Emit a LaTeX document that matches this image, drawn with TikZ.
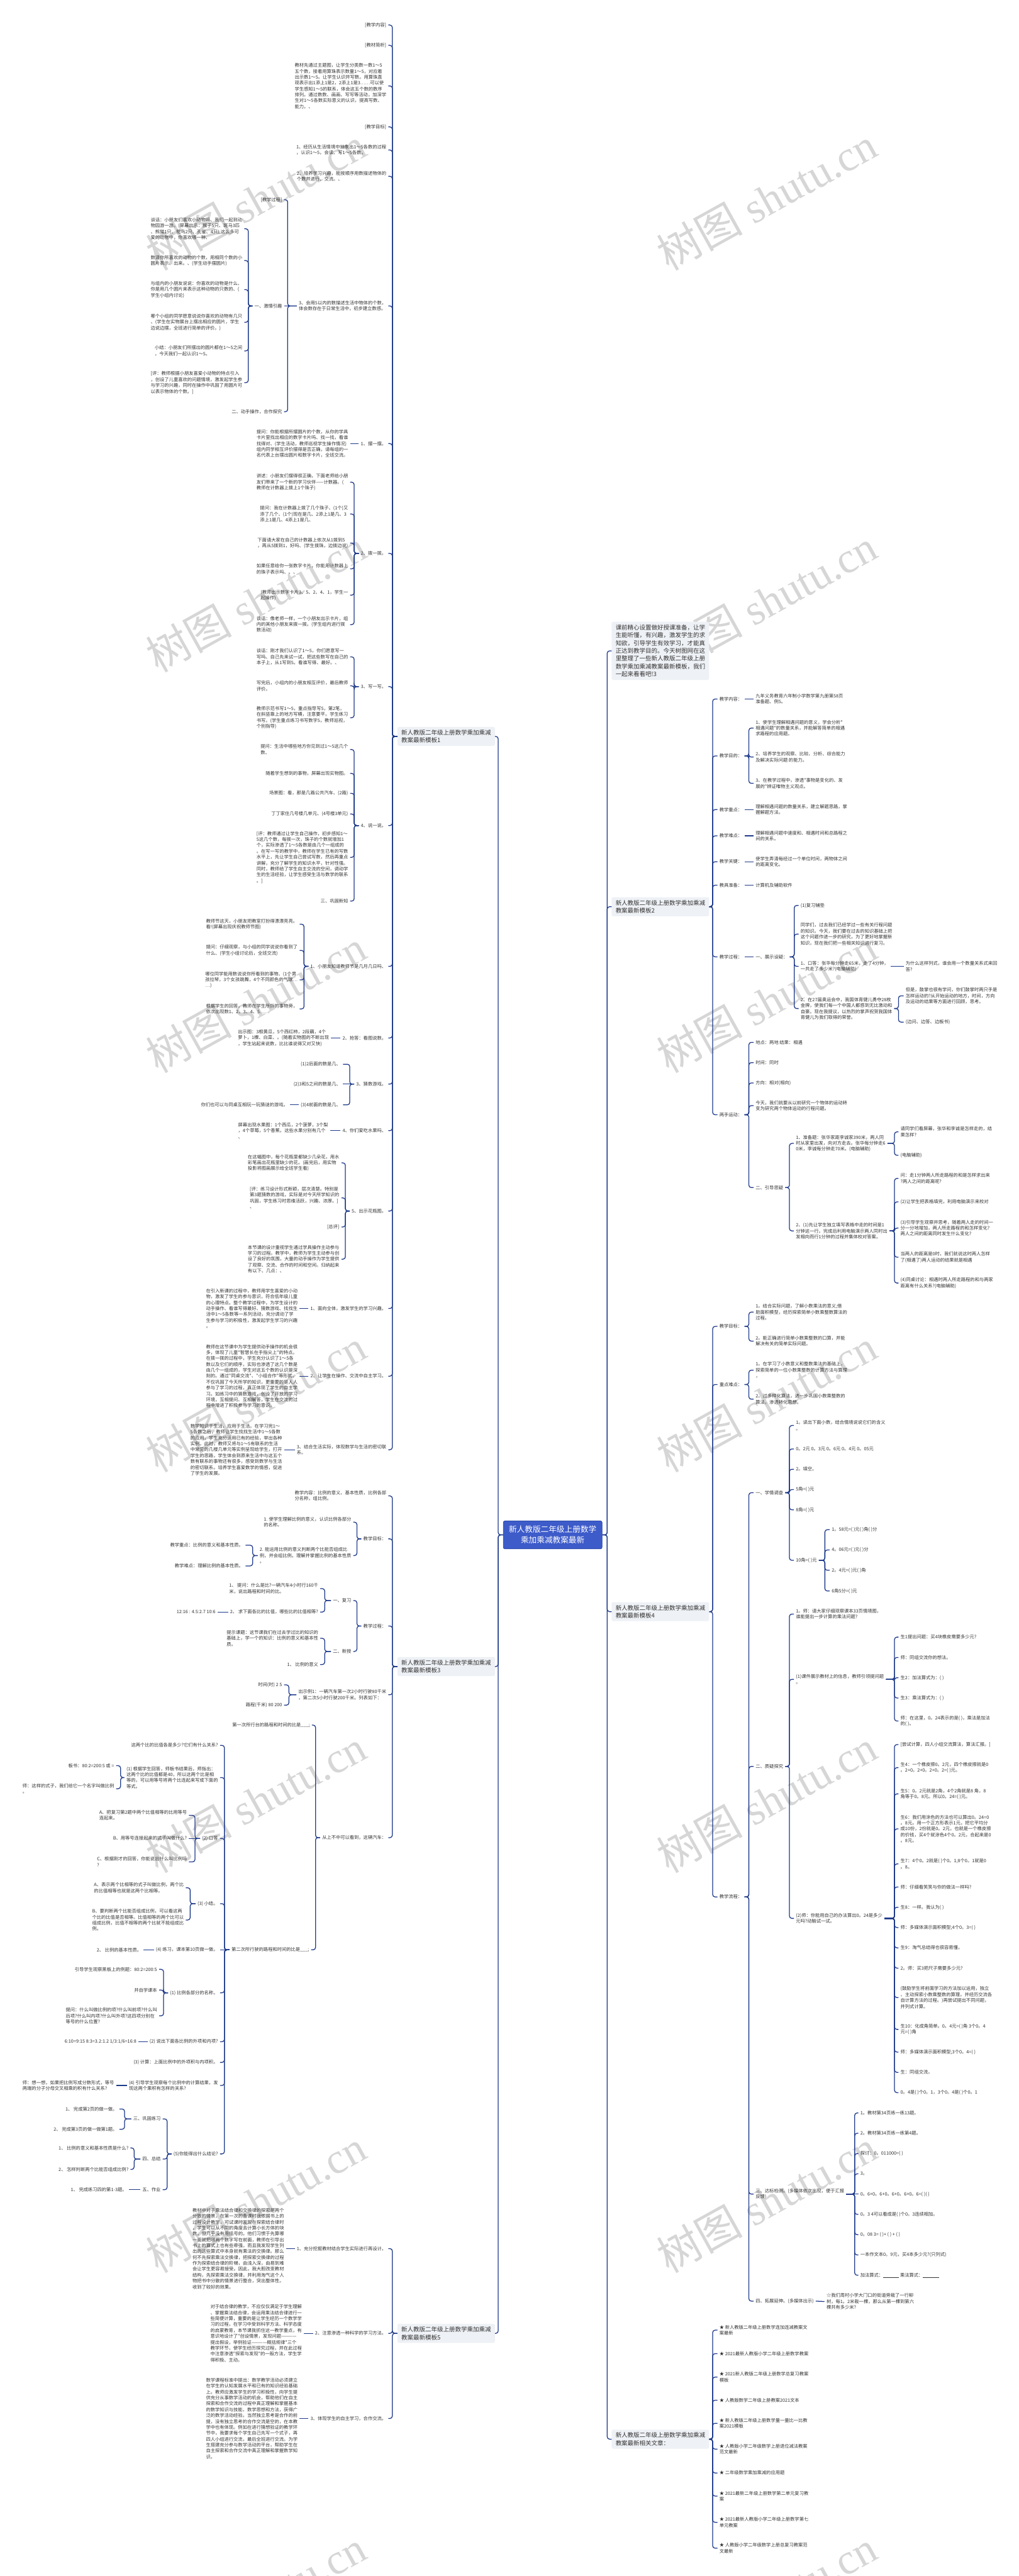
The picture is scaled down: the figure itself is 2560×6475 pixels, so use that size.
\documentclass[tikz,border=0pt]{standalone}
\usepackage{fontspec}
\newfontfamily\cjk{Noto Sans CJK SC}
\newfontfamily\wmlat{Liberation Serif}
\definecolor{linec}{HTML}{1E3A8A}
\definecolor{boxc}{HTML}{EEF1F5}
\definecolor{txtc}{HTML}{333333}
\definecolor{cfill}{HTML}{3D5BC9}
\definecolor{cdraw}{HTML}{2F4BB0}
\tikzset{
  base/.style={font=\cjk\fontsize{11.5}{14.8}\selectfont, text=txtc, align=left, inner xsep=5pt, inner ysep=1pt},
  lnode/.style={base, anchor=east},
  rnode/.style={base, anchor=west},
  bx/.style={fill=boxc, rounded corners=4pt, font=\cjk\fontsize{15}{19.7}\selectfont, text=txtc, align=left, inner xsep=10pt, inner ysep=7pt},
  cnode/.style={fill=cfill, draw=cdraw, line width=1.5pt, rounded corners=4pt, font=\cjk\fontsize{20}{27}\selectfont, text=white, align=center, minimum width=248pt, minimum height=70pt},
  conn/.style={draw=linec, line width=2pt, rounded corners=6pt},
  wm/.style={text=black!16, rotate=29, inner sep=0pt, font=\fontsize{108}{112}\selectfont}
}
\newcommand\lkL[3]{\foreach \kk in {#2}{\draw[conn] (#1.west) -- (#3,0 |- #1.west) |- (\kk.east);}}
\newcommand\lkR[3]{\foreach \kk in {#2}{\draw[conn] (#1.east) -- (#3,0 |- #1.east) |- (\kk.west);}}
\newcommand\stL[2]{\draw[conn] (#1.west) -- (#2.east);}
\newcommand\stR[2]{\draw[conn] (#1.east) -- (#2.west);}
\begin{document}
\begin{tikzpicture}[x=1pt,y=-1pt]
\useasboundingbox (0,0) rectangle (2560,6475);
\fill[white] (0,0) rectangle (2560,6475);
% watermarks
\foreach \yy [count=\ii] in {500,1510,2517,3520,4527,5533,6540}{
  \node[wm] (wmL\ii) at (643,\yy) {{\cjk 树图}\hspace{0.25em}{\wmlat shutu.cn}};
  \node[wm] (wmR\ii) at (1927,\yy) {{\cjk 树图}\hspace{0.25em}{\wmlat shutu.cn}};
}
% central
\node[cnode] (C) at (1389,3858) {新人教版二年级上册数学\\乘加乘减教案最新};
% main branches
\node[bx, anchor=east] (P1) at (1244,1851) {新人教版二年级上册数学乘加乘减\\教案最新模板1};
\node[bx, anchor=east] (P3) at (1244,4189) {新人教版二年级上册数学乘加乘减\\教案最新模板3};
\node[bx, anchor=east] (P5) at (1244,5865) {新人教版二年级上册数学乘加乘减\\教案最新模板5};
\node[bx, anchor=west] (R0) at (1537,1636) {课前精心设置做好授课准备，让学\\生能听懂，有兴趣，激发学生的求\\知欲，引导学生有效学习，才能真\\正达到教学目的。今天树图网在这\\里整理了一些新人教版二年级上册\\数学乘加乘减教案最新模板，我们\\一起来看看吧!3};
\node[bx, anchor=west] (R2) at (1537,2279) {新人教版二年级上册数学乘加乘减\\教案最新模板2};
\node[bx, anchor=west] (R4) at (1537,4051) {新人教版二年级上册数学乘加乘减\\教案最新模板4};
\node[bx, anchor=west] (R6) at (1537,6131) {新人教版二年级上册数学乘加乘减\\教案最新相关文章：};
\foreach \pp in {P1,P3,P5}{\draw[conn] (C.west) -- (1252,0 |- C.west) |- (\pp.east);}
\foreach \pp in {R0,R2,R4,R6}{\draw[conn] (C.east) -- (1526,0 |- C.east) |- (\pp.west);}

% ================= P1 =================
\node[lnode] (a1) at (976,63) {[教学内容]};
\node[lnode] (a2) at (976,114) {[教材简析]};
\node[lnode] (a3) at (976,216) {教材先通过主题图，让学生分类数一数1～5\\五个数，接着用算珠表示数量1～5，对应着\\出示数1～5。让学生认识并写数。用算珠直\\观表示出1添上1是2，2添上1是3……可以使\\学生感知1～5的联系，体会这五个数的数序\\排列。通过数数、画画、写写等活动，加深学\\生对1～5各数实际意义的认识，提高写数、\\能力。、};
\node[lnode] (a4) at (976,319) {[教学目标]};
\node[lnode] (a5) at (976,377) {1、经历从生活情境中抽象出1～5各数的过程\\，认识1～5，会读、写1～5各数。};
\node[lnode] (a6) at (976,443) {2、培养学习兴趣，能按顺序用数描述物体的\\个数并进行、交流。、};
\node[lnode] (a7) at (976,769) {3、会用5以内的数描述生活中物体的个数，\\体会数存在于日常生活中，初步建立数感。};
\node[lnode] (a7a) at (714,502) {[教学过程]};
\node[lnode] (a7b) at (714,769) {一、激情引趣};
\node[lnode] (a7c) at (714,1035) {二、动手操作，合作探究};
\node[lnode] (b1) at (614,575) {谈话：小朋友们喜欢小动物吗、我们一起到动\\物园游一游。(屏幕出示：猴子5只、斑马3匹\\、熊猫1只、鸵鸟2只、孔雀、4只),这么多可\\爱的动物中，你喜欢哪一种、};
\node[lnode] (b2) at (614,655) {数清你所喜欢的动物的个数，用相同个数的小\\圆片表示、出来。、(学生动手摆圆片)};
\node[lnode] (b3) at (614,728) {与组内的小朋友说说：你喜欢的动物是什么、\\你是用几个圆片来表示这种动物的只数的、(\\学生小组内讨论)};
\node[lnode] (b4) at (614,810) {哪个小组的同学愿意说说你喜欢的动物有几只\\、(学生在实物展台上摆出相应的圆片，学生\\边说边摆，全班进行简单的评价。)};
\node[lnode] (b5) at (614,882) {小结：小朋友们所摆出的圆片都在1～5之间\\，今天我们一起认识1～5。};
\node[lnode] (b6) at (614,962) {[评：教师根据小朋友喜爱小动物的特点引入\\，创设了儿童喜欢的问题情境，激发起学生参\\与学习的兴趣，同时在操作中巩固了用圆片可\\以表示物体的个数。]};
\node[lnode] (a8) at (976,1115) {1、摆一摆。};
\node[lnode] (a8a) at (880,1115) {提问：你能根据所摆圆片的个数，从你的学具\\卡片里找出相应的数字卡片吗、找一找，看谁\\找得对、(学生活动，教师巡视学生操作情况)\\组内同学相互评价摆得是否正确，请每组的一\\名代表上台摆出圆片和数字卡片，全班交流。};
\node[lnode] (a9) at (976,1391) {2、拨一拨。};
\node[lnode] (a9a) at (880,1212) {讲述：小朋友们摆得很正确，下面老师给小朋\\友们带来了一个新的学习伙伴——计数器。(\\教师在计数器上拨上1个珠子)};
\node[lnode] (a9b) at (880,1292) {提问：我在计数器上拨了几个珠子、(1个)又\\添了几个、(1个)现在是几、2添上1是几、3\\添上1是几、4添上1是几、};
\node[lnode] (a9c) at (880,1365) {下面请大家在自己的计数器上依次从1拨到5\\，再从5拨到1，好吗、(学生拨珠，边拨边说)};
\node[lnode] (a9d) at (880,1430) {如果任意给你一张数字卡片，你能用计数器上\\的珠子表示吗、、、};
\node[lnode] (a9e) at (880,1496) {(教师出示数字卡片3、5、2、4、1，学生一\\起操作)};
\node[lnode] (a9f) at (880,1570) {谈话：像老师一样，一个小朋友出示卡片，组\\内的其他小朋友来拨一拨。(学生组内进行拨\\数活动)};
\node[lnode] (a10) at (976,1726) {3、写一写。};
\node[lnode] (a10a) at (880,1651) {谈话：刚才我们认识了1～5，你们愿意写一\\写吗、自己先来试一试，把这些数写在自己的\\本子上，从1写到5。看谁写得、最好。、};
\node[lnode] (a10b) at (880,1724) {写完后，小组内的小朋友相互评价，最后教师\\评价。};
\node[lnode] (a10c) at (880,1804) {教师示范书写1～5，重点指导写5，第2笔，\\在斜竖靠上的地方写横，注意要平。学生练习\\书写。(学生重点练习书写数字5，教师巡视，\\个别指导)};
\node[lnode] (a11) at (976,2075) {4、说一说。};
\node[lnode] (a11a) at (880,1884) {提问：生活中哪些地方你见到过1～5这几个\\数、};
\node[lnode] (a11b) at (880,1944) {随着学生想到的事物，屏幕出现实物图。};
\node[lnode] (a11c) at (880,1994) {场景图：看，那是几路公共汽车、(2路)};
\node[lnode] (a11d) at (880,2046) {丁丁家住几号楼几单元、(4号楼3单元)};
\node[lnode] (a11e) at (880,2155) {[评：教师通过让学生自己操作，初步感知1～\\5这几个数，每拨一次，珠子的个数就增加1\\个，实际渗透了1～5各数是由几个一组成的\\。在写一写的教学中，教师在学生已有的写数\\水平上，先让学生自己尝试写数，然后再重点\\讲解，充分了解学生的知识水平，针对性强。\\同时，教师给了学生自主交流的空间，调动学\\生的生活经验，让学生感受生活与数学的联系\\。]};
\node[lnode] (a11f) at (880,2265) {三、巩固新知};
\node[lnode] (a12) at (976,2429) {1、小朋友知道教师节是几月几日吗、};
\node[lnode] (a12a) at (753,2323) {教师节这天，小朋友把教室打扮得漂漂亮亮。\\看!(屏幕出现庆祝教师节图)};
\node[lnode] (a12b) at (753,2389) {提问：仔细观察，与小组的同学说说你看到了\\什么、(学生小组讨论后，全班交流)};
\node[lnode] (a12c) at (753,2463) {哪位同学能用数说说你所看到的事物、(1个男\\孩拉琴，3个女孩跳舞，4个不同颜色的气球…\\…)};
\node[lnode] (a12d) at (753,2536) {根据学生的回答，教师在学生所指的事物旁，\\依次出现数1、2、3、4、5……};
\node[lnode] (a13) at (976,2609) {2、抢答：看图说数。};
\node[lnode] (a13a) at (832,2609) {出示图：3根黄瓜，5个西红柿，2段藕，4个\\萝卜，1棵、白菜、。(随着实物图的不断出现\\，学生站起来说数，比比谁说得又对又快)};
\node[lnode] (a14) at (976,2725) {3、猜数游戏。};
\node[lnode] (a14a) at (862,2675) {(1)2后面的数是几、};
\node[lnode] (a14b) at (862,2725) {(2)3和5之间的数是几、};
\node[lnode] (a14c) at (862,2777) {(3)4前面的数是几、};
\node[lnode] (a14d) at (729,2777) {你们也可以与同桌互相玩一玩猜谜的游戏。};
\node[lnode] (a15) at (976,2842) {4、你们爱吃水果吗、};
\node[lnode] (a15a) at (830,2842) {屏幕出现水果图：1个西瓜，2个菠萝，3个梨\\，4个草莓，5个香蕉。这些水果分别有几个\\、};
\node[lnode] (a16) at (976,3044) {5、出示花瓶图。};
\node[lnode] (a16a) at (858,2923) {在这幅图中，每个花瓶里都缺少几朵花，用水\\彩笔画出花瓶里缺少的花。(画完后，用实物\\投影将图画展示给全班学生看)};
\node[lnode] (a16b) at (858,3011) {[评：练习设计形式新颖，层次清楚。特别是\\第3题猜数的游戏，实际是对今天所学知识的\\巩固，学生练习时思维活跃，兴趣、浓厚。]\\、};
\node[lnode] (a16c) at (858,3084) {[总评]};
\node[lnode] (a16d) at (858,3165) {本节课的设计重视学生通过学具操作主动参与\\学习的过程。教学中，教师为学生主动参与创\\设了良好的氛围，大量的动手操作为学生提供\\了观察、交流、合作的时间和空间。归纳起来\\有以下、几点：、};
\node[lnode] (a17) at (976,3289) {1、面向全体，激发学生的学习兴趣。};
\node[lnode] (a17a) at (753,3289) {在引入新课的过程中，教师用学生喜爱的小动\\物，激发了学生的参与意识，符合低年级儿童\\的心理特点。整个教学过程中，为学生设计的\\动手操作、看谁写得最好、猜数游戏、找找生\\活中1～5各数等一系列活动，充分调动了学\\生参与学习的积极性，激发起学生学习的兴趣\\。};
\node[lnode] (a18) at (976,3459) {2、让学生在操作、交流中自主学习。};
\node[lnode] (a18a) at (753,3459) {教师在这节课中为学生提供动手操作的机会很\\多，体现了儿童"智慧长在手指尖上"的特点。\\在拨一拨的过程中，学生充分认识了1～5各\\数以及它们的顺序，实际也渗透了这几个数是\\由几个一组成的，学生对这五个数的认识是深\\刻的。通过"同桌交流"、"小组合作"等形式，\\不仅巩固了今天所学的知识，更重要的是人人\\参与了学习的过程，真正体现了学生的自主学\\习。如练习中的猜数游戏，创设了开放的学习\\环境，互相提问、互相解答，学生在交流的过\\程中增进了积极参与学习的意识。};
\node[lnode] (a19) at (976,3644) {3、结合生活实际，体现数学与生活的密切联\\系。};
\node[lnode] (a19a) at (714,3644) {数学知识于生活，应用于生活。在学习完1～\\5各数之后，教师让学生找找生活中1～5各数\\的应用，学生充分运用已有的经验，举出各种\\实例。此时，教师又将与1～5有联系的生活\\中常见的几楼几单元等实例呈现给学生，打开\\学生的思路，学生体会到原来生活中与这五个\\数有联系的事物还有很多，感受到数学与生活\\的密切联系。培养学生喜爱数学的情感，促进\\了学生的发展。};
\lkL{P1}{a1,a2,a3,a4,a5,a6,a7,a8,a9,a10,a11,a12,a13,a14,a15,a16,a17,a18,a19}{986}
\lkL{a7}{a7a,a7c}{723}
\stL{a7}{a7b}
\lkL{a7b}{b1,b2,b3,b4,b5,b6}{624}
\stL{a8}{a8a}
\lkL{a9}{a9a,a9b,a9c,a9d,a9e,a9f}{890}
\lkL{a10}{a10a,a10b,a10c}{890}
\lkL{a11}{a11a,a11b,a11c,a11d,a11e,a11f}{890}
\lkL{a12}{a12a,a12b,a12c,a12d}{764}
\stL{a13}{a13a}
\lkL{a14}{a14a,a14c}{879}
\stL{a14}{a14b}
\stL{a14c}{a14d}
\stL{a15}{a15a}
\lkL{a16}{a16a,a16b,a16c,a16d}{868}
\stL{a17}{a17a}
\stL{a18}{a18a}
\stL{a19}{a19a}

% ================= P3 =================
\node[lnode] (c1) at (976,3760) {教学内容：比例的意义、基本性质，比例各部\\分名称，组比例。};
\node[lnode] (c2) at (976,3868) {教学目标：};
\node[lnode] (c2a) at (888,3826) {1. 使学生理解比例的意义，认识比例各部分\\的名称。};
\node[lnode] (c2b) at (888,3910) {2. 能运用比例的意义判断两个比能否组成比\\例，并会组比例。理解并掌握比例的基本性质\\。};
\node[lnode] (c2b1) at (617,3884) {教学重点：比例的意义和基本性质。};
\node[lnode] (c2b2) at (617,3936) {教学难点：理解比例的基本性质。};
\node[lnode] (c3) at (976,4087) {教学过程：};
\node[lnode] (c3a) at (888,4023) {一、复习};
\node[lnode] (c3a1) at (805,3993) {1、 提问：什么是比?一辆汽车4小时行160千\\米，说出路程和时间的比。};
\node[lnode] (c3a2) at (805,4052) {2、 求下面各比的比值，哪些比的比值相等?};
\node[lnode] (c3a2a) at (547,4052) {12:16 : 4.5:2.7 10:6};
\node[lnode] (c3b) at (888,4151) {二、新授};
\node[lnode] (c3b1) at (805,4118) {提示课题：这节课我们在过去学过比的知识的\\基础上，学一个的知识：比例的意义和基本性\\质。};
\node[lnode] (c3b2) at (805,4184) {1、 比例的意义};
\node[lnode] (c4) at (976,4260) {出示例1：一辆汽车第一次2小时行驶80千米\\，第二次5小时行驶200千米。列表如下：};
\node[lnode] (c4a) at (714,4235) {时间(时) 2 5};
\node[lnode] (c4b) at (714,4286) {路程(千米) 80 200};
\node[lnode] (c5) at (976,4619) {从上不中可以看到，这辆汽车：};
\node[lnode] (c5a) at (784,4336) {第一次所行台的路程和时间的比是\_\_\_;};
\node[lnode] (c5b) at (782,4901) {第二次所行驶的路程和时间的比是\_\_\_;};
\node[lnode] (d1) at (553,4387) {这两个比的比值各是多少?它们有什么关系?};
\node[lnode] (d2) at (553,4468) {(1) 根据学生回答，师板书结果后，师指出：\\这两个比的比值都是40，所以这两个比是相\\等的，可以用等号将两个比连起来写成下面的\\等式。};
\node[lnode] (d2a) at (292,4438) {板书：80:2=200:5 或 =};
\node[lnode] (d2b) at (292,4496) {师：这样的式子，我们给它一个名字叫做比例\\。};
\node[lnode] (d3) at (553,4621) {(2) 口答};
\node[lnode] (d3a) at (475,4563) {A、把复习第2题中两个比值相等的比用等号\\连起来。};
\node[lnode] (d3b) at (475,4621) {B、用等号连接起来的式子叫做什么?};
\node[lnode] (d3c) at (475,4680) {C、根据刚才的回答，你能说出什么叫比例吗\\?};
\node[lnode] (d4) at (553,4785) {(3) 小结。};
\node[lnode] (d4a) at (467,4745) {A、表示两个比相等的式子叫做比例，两个比\\的比值相等也就是这两个比相等。};
\node[lnode] (d4b) at (467,4826) {B、要判断两个比能否组成比例，可以看这两\\个比的比值是否相等。比值相等的两个比可以\\组成比例，比值不相等的两个比就不能组成比\\例。};
\node[lnode] (d5) at (553,4901) {(4) 练习，课本第10页做一做。};
\node[lnode] (d5a) at (361,4901) {2、 比例的基本性质。};
\node[lnode] (d6) at (553,5009) {(1) 比例各部分的名称。};
\node[lnode] (d6a) at (400,4950) {引导学生观察黑板上的例题：80:2=200:5};
\node[lnode] (d6b) at (400,5002) {并自学课本};
\node[lnode] (d6c) at (400,5067) {提问：什么叫做比例的项?什么叫前项?什么叫\\后项?什么叫内项?什么叫外项?这四项分别在\\等号的什么位置?};
\node[lnode] (d7) at (553,5132) {(2) 说出下面各比例的外项和内项?};
\node[lnode] (d7a) at (348,5132) {6:10=9:15 8:3=3.2:1.2 1/3:1/6=16:8};
\node[lnode] (d8) at (553,5184) {(3) 计算：上面比例中的外项积与内项积。};
\node[lnode] (d9) at (553,5242) {(4) 引导学生观察每个比例中的计算结果，发\\现这两个乘积有怎样的关系?};
\node[lnode] (d9a) at (292,5242) {师：想一想，如果把比例写成分数形式，等号\\两端的分子分母交叉相乘的积有什么关系?};
\node[lnode] (d10) at (553,5414) {(5)你能得出什么结论?};
\node[lnode] (e1) at (409,5326) {三、巩固练习};
\node[lnode] (e1a) at (300,5301) {1、 完成第2页的做一做。};
\node[lnode] (e1b) at (300,5352) {2、 完成第3页的做一做第1题。};
\node[lnode] (e2) at (409,5427) {四、总结};
\node[lnode] (e2a) at (328,5399) {1、 比例的意义和基本性质是什么?};
\node[lnode] (e2b) at (328,5453) {2、 怎样判断两个比能否组成比例?};
\node[lnode] (e3) at (409,5504) {五、作业};
\node[lnode] (e3a) at (324,5504) {1、 完成练习四的第1-3题。};
\lkL{P3}{c1,c2,c3,c4,c5}{986}
\lkL{c2}{c2a,c2b}{897}
\lkL{c2b}{c2b1,c2b2}{635}
\lkL{c3}{c3a,c3b}{897}
\lkL{c3a}{c3a1,c3a2}{816}
\stL{c3a2}{c3a2a}
\lkL{c3b}{c3b1,c3b2}{816}
\lkL{c4}{c4a,c4b}{726}
\lkL{c5}{c5a,c5b}{793}
\lkL{c5b}{d1,d2,d3,d4,d6,d7,d8,d9,d10}{564}
\stL{c5b}{d5}
\lkL{d2}{d2a,d2b}{303}
\lkL{d3}{d3a,d3c}{490}
\stL{d3}{d3b}
\lkL{d4}{d4a,d4b}{478}
\stL{d5}{d5a}
\lkL{d6}{d6a,d6b,d6c}{411}
\stL{d7}{d7a}
\stL{d9}{d9a}
\lkL{d10}{e1,e2,e3}{420}
\lkL{e1}{e1a,e1b}{313}
\lkL{e2}{e2a,e2b}{337}
\stL{e3}{e3a}

% ================= P5 =================
\node[lnode] (f1) at (976,5652) {1、充分挖掘教材结合学生实际进行再设计。};
\node[lnode] (f1a) at (719,5652) {教材中对于乘法结合律和交换律的探索是两个\\分散的情景，在第一次的备课时我依据书上的\\过程设计教学，可试课时发现在探索结合律时\\，学生可以从不同的角度去计算小长方体的块\\数，但几乎没有用括号的。他们习惯于先算哪\\一面就把哪两个数字写在前面，教师在引导出\\书上的算式上也有些牵强，而且我发现学生列\\出的这些算式中本身就有乘法的交换律。那么\\何不先探索乘法交换律，把探索交换律的过程\\作为探索结合律的阶梯，由浅入深，由易到难\\会让学生更容易接受。因此，我大胆改变教材\\结构，先探索乘法交换律，并利用淘气这个人\\物把书中分散的情景进行整合，突出整体性。\\收到了较好的效果。};
\node[lnode] (f2) at (976,5865) {2、注意渗透一种科学的学习方法。};
\node[lnode] (f2a) at (764,5865) {对于结合律的教学，不应仅仅满足于学生理解\\、掌握乘法结合律，会运用乘法结合律进行一\\些简便计算，重要的是让学生经历一个数学学\\习的过程，在学习中受到科学方法、科学态度\\的启蒙教育，本节课我抓住这一教学重点，有\\意识地设计了"创设情景，发现问题————\\提出假设，举例验证————概括规律"三个\\教学环节，使学生经历探究过程，并在此过程\\中注意渗透"探索与发现"的一般方法，学生学\\得积极、主动。};
\node[lnode] (f3) at (976,6079) {3、体现学生的自主学习，合作交流。};
\node[lnode] (f3a) at (753,6079) {数学课程标准中提出：数学教学活动必须建立\\在学生的认知发展水平和已有的知识经验基础\\上。教师应激发学生的学习积极性，向学生提\\供充分从事数学活动的机会，帮助他们在自主\\探索和合作交流的过程中真正理解和掌握基本\\的数学知识与技能、数学思想和方法，获得广\\泛的数学活动经验。当然独立思考是合作的前\\提，没有独立思考的合作交流是空的，在本教\\学中也有体现。例如在进行猜想验证的教学环\\节中，我要求每个学生自己先写一个式子，再\\四人小组进行交流，最后全班进行交流。为学\\生搭建充分参与数学活动的平台，帮助学生在\\自主探索和合作交流中真正理解和掌握数学知\\识。};
\lkL{P5}{f1,f2,f3}{986}
\stL{f1}{f1a}
\stL{f2}{f2a}
\stL{f3}{f3a}

% ================= R2 =================
\node[rnode] (g1) at (1803,1757) {教学内容：};
\node[rnode] (g1a) at (1894,1757) {九年义务教育六年制小学数学第九册第58页\\准备题、例5。};
\node[rnode] (g2) at (1803,1900) {教学目的：};
\node[rnode] (g2a) at (1894,1830) {1、使学生理解相遇问题的意义，学会分析"\\相遇问题"的数量关系，并能解答简单的相遇\\求路程的应用题。};
\node[rnode] (g2b) at (1894,1903) {2、培养学生的观察、比较、分析、综合能力\\及解决实际问题 的能力。};
\node[rnode] (g2c) at (1894,1969) {3、在教学过程中，渗透"事物是变化的、发\\展的"辨证唯物主义观点。};
\node[rnode] (g3) at (1803,2035) {教学重点：};
\node[rnode] (g3a) at (1894,2035) {理解相遇问题的数量关系，建立解题思路，掌\\握解题方法。};
\node[rnode] (g4) at (1803,2101) {教学难点：};
\node[rnode] (g4a) at (1894,2101) {理解相遇问题中速度和、相遇时间和总路程之\\间的关系。};
\node[rnode] (g5) at (1803,2166) {教学关键：};
\node[rnode] (g5a) at (1894,2166) {使学生弄清每经过一个单位时间，两物体之间\\的距离变化。};
\node[rnode] (g6) at (1803,2225) {教具准备：};
\node[rnode] (g6a) at (1894,2225) {计算机及辅助软件};
\node[rnode] (g7) at (1803,2405) {教学过程：};
\node[rnode] (g7a) at (1894,2405) {一、展示设疑：};
\node[rnode] (h1) at (2007,2276) {(1)复习铺垫};
\node[rnode] (h2) at (2007,2348) {同学们，过去我们已经学过一些有关行程问题\\的知识。今天，我们要在过去的知识基础上把\\这个问题作进一步的研究，为了更好地掌握新\\知识，现在我们把一些相关知识进行复习。};
\node[rnode] (h3) at (2007,2429) {1、口答：张华每分钟走65米，走了4分钟，\\一共走了多少米?(电脑辅助)};
\node[rnode] (h3a) at (2271,2429) {为什么这样列式，谁会用一个数量关系式来回\\答?};
\node[rnode] (h4) at (2007,2535) {2、在27届奥运会中，我国体育健儿勇夺28枚\\金牌，使我们每一个中国人都感到无比激动和\\自豪。现在我提议，以热烈的掌声祝贺我国体\\育健儿为我们取得的荣誉。};
\node[rnode] (h4a) at (2271,2503) {但是，鼓掌也很有学问，你们鼓掌时两只手是\\怎样运动的?从开始运动的地方，时间，方向\\及运动的结果等方面进行回顾，思考。};
\node[rnode] (h4b) at (2271,2569) {(边问、边答、边板书)};
\node[rnode] (g8) at (1803,2802) {两手运动：};
\node[rnode] (i1) at (1894,2620) {地点：两地 结果：相遇};
\node[rnode] (i2) at (1894,2671) {时间：同时};
\node[rnode] (i3) at (1894,2722) {方向：相对(相向)};
\node[rnode] (i4) at (1894,2779) {今天，我们就要从以前研究一个物体的运动转\\变为研究两个物体运动的行程问题。};
\node[rnode] (i5) at (1894,2985) {二、引导思疑};
\node[rnode] (j1) at (1995,2874) {1、准备题：张华家距李诚家390米，两人同\\时从家里出发，向对方走去。张华每分钟走6\\0米，李诚每分钟走70米。(电脑辅助)};
\node[rnode] (j1a) at (2258,2845) {请同学们看屏幕，张华和李诚是怎样走的，结\\果怎样?};
\node[rnode] (j1b) at (2258,2904) {(电脑辅助)};
\node[rnode] (j2) at (1995,3094) {2、(1)先让学生独立填写表格中走的时间是1\\分钟这一行。完成后利用电脑演示两人同时出\\发相向而行1分钟的过程并集体校对答案。};
\node[rnode] (j2a) at (2258,2962) {问：走1分钟两人所走路程的和是怎样求出来\\?两人之间的距离呢?};
\node[rnode] (j2b) at (2258,3021) {(2)让学生把表格填完，利用电脑演示来校对};
\node[rnode] (j2c) at (2258,3087) {(3)引导学生观察并思考，随着两人走的时间一\\分一分地增加，两人所走路程的和怎样变化?\\两人之间的距离同时发生什么变化?};
\node[rnode] (j2d) at (2258,3160) {当两人的距离是0时，我们就说这时两人怎样\\了(相遇了)两人运动的结果就是相遇};
\node[rnode] (j2e) at (2258,3225) {(4)同桌讨论：相遇时两人所走路程的和与两家\\距离有什么关系?(电脑辅助)};
\lkR{R2}{g1,g2,g3,g4,g5,g6,g7,g8}{1791}
\stR{g1}{g1a}
\lkR{g2}{g2a,g2b,g2c}{1882}
\stR{g3}{g3a}
\stR{g4}{g4a}
\stR{g5}{g5a}
\stR{g6}{g6a}
\stR{g7}{g7a}
\lkR{g7a}{h1,h2,h3,h4}{1996}
\stR{h3}{h3a}
\lkR{h4}{h4a,h4b}{2258}
\lkR{g8}{i1,i2,i3,i4,i5}{1882}
\lkR{i5}{j1,j2}{1984}
\lkR{j1}{j1a,j1b}{2248}
\lkR{j2}{j2a,j2b,j2c,j2d,j2e}{2248}

% ================= R4 =================
\node[rnode] (k1) at (1803,3334) {教学目标：};
\node[rnode] (k1a) at (1894,3298) {1。结合实际问题，了解小数乘法的意义;借\\助面积模型，经历探索简单小数乘整数算法的\\过程。};
\node[rnode] (k1b) at (1894,3371) {2。能正确进行简单小数乘整数的口算，并能\\解决有关的简单实际问题。};
\node[rnode] (k2) at (1803,3480) {重点难点：};
\node[rnode] (k2a) at (1894,3444) {1。在学习了小数意义和整数乘法的基础上，\\探索简单的一位小数乘整数的计算方法与算理\\，};
\node[rnode] (k2b) at (1894,3517) {2。过多样化算法，进一步巩固小数乘整数的\\算法，渗透转化思想。};
\node[rnode] (k3) at (1803,4768) {教学流程：};
\node[rnode] (l1) at (1894,3752) {一、学情调查};
\node[rnode] (l1a) at (1995,3583) {1。读出下面小数，结合情境说说它们的含义\\。};
\node[rnode] (l1b) at (1995,3642) {0。2元 0。3元 0。6元 0。4元 0。05元};
\node[rnode] (l1c) at (1995,3693) {2。填空。};
\node[rnode] (l1d) at (1995,3744) {5角=( )元};
\node[rnode] (l1e) at (1995,3795) {8角=( )元};
\node[rnode] (l1f) at (1995,3922) {10角=( )元};
\node[rnode] (l1f1) at (2085,3845) {1。58元=( )元( )角( )分};
\node[rnode] (l1f2) at (2085,3896) {4。06元=( )元( )分};
\node[rnode] (l1f3) at (2085,3947) {2。4元=( )元( )角};
\node[rnode] (l1f4) at (2085,3999) {6角5分=( )元};
\node[rnode] (l2) at (1894,4440) {二、质疑探究};
\node[rnode] (m1) at (1995,4057) {1。师：请大家仔细观察课本33页情境图，\\谁能提出一步计算的乘法问题?};
\node[rnode] (m2) at (1995,4221) {(1)课件展示教材上的信息，教师引领提问题\\。};
\node[rnode] (m2a) at (2258,4115) {生1提出问题：买4块橡皮需要多少元?};
\node[rnode] (m2b) at (2258,4166) {师：同组交流你的想法。};
\node[rnode] (m2c) at (2258,4217) {生2：加法算式为：( )};
\node[rnode] (m2d) at (2258,4268) {生3：乘法算式为：( )};
\node[rnode] (m2e) at (2258,4326) {师：在这里，0。24表示的是( )，乘法是加法\\的( )。};
\node[rnode] (m3) at (1995,4822) {(2)师：你能用自己的办法算出0。24是多少\\元吗?动脑试一试。};
\node[rnode] (n1) at (2258,4385) {[尝试计算，四人小组交流算法，算法汇报。]};
\node[rnode] (n2) at (2258,4443) {生4：一个橡皮擦0。2元，四个橡皮擦就是0\\。2+0。2+0。2+0。2=( )元。};
\node[rnode] (n3) at (2258,4509) {生5：0。2元就是2角，4个2角就是8 角，8\\角等于0。8元。所以0。24=( )元。};
\node[rnode] (n4) at (2258,4597) {生6：我们用涂色的方法也可以算出0。24=0\\。8元。用一个正方形表示1元，把它平均分\\成10份，2份就是0。2元，也就是一个橡皮擦\\的价钱，买4个就涂色4个0。2元，合起来是0\\。8元。};
\node[rnode] (n5) at (2258,4685) {生7：4个0。2就是( )个0。1;8个0。1就是0\\。8。};
\node[rnode] (n6) at (2258,4743) {师：仔细看笑笑与你的做法一样吗?};
\node[rnode] (n7) at (2258,4794) {生8：一样。我认为( )};
\node[rnode] (n8) at (2258,4845) {师：多媒体演示面积模型;4个0。3=( )};
\node[rnode] (n9) at (2258,4896) {生9：淘气总结得也很容易懂。};
\node[rnode] (n10) at (2258,4947) {2。师：买3把尺子需要多少元?};
\node[rnode] (n11) at (2258,5021) {(鼓励学生将前面学习的方法加以运用，独立\\、主动探索小数乘整数的算理。并经历交流各\\自计算方法的过程。)再尝试提出不同问题，\\并列式计算。};
\node[rnode] (n12) at (2258,5101) {生10：化成角简单。0。4元=( )角 3个0。4\\元=( )角};
\node[rnode] (n13) at (2258,5158) {师：多媒体演示面积模型;3个0。4=( )};
\node[rnode] (n14) at (2258,5209) {生：同组交流。};
\node[rnode] (n15) at (2258,5260) {0。4是( )个0。1，3个0。4是( )个0。1};
\node[rnode] (l3) at (1894,5515) {三、达标检测。(多媒体依次出现，便于汇报\\反馈)};
\node[rnode] (o1) at (2157,5311) {1。教材第34页练一练13题。};
\node[rnode] (o2) at (2157,5362) {2。教材第34页练一练第4题。};
\node[rnode] (o3) at (2157,5413) {探讨：0。011000=( )};
\node[rnode] (o4) at (2157,5464) {3。};
\node[rnode] (o5) at (2157,5515) {0。6+0。6+0。6+0。6+0。6=( )( )};
\node[rnode] (o6) at (2157,5566) {0。3 4可以看成是( )个0。3连续相加。};
\node[rnode] (o7) at (2157,5617) {0。08 3= ( )+ ( ) + ( )};
\node[rnode] (o8) at (2157,5668) {一本作文本0。9元，买4本多少元?(只列式)};
\node[rnode] (o9) at (2157,5719) {加法算式：\underline{\hspace{40pt}} 乘法算式：\underline{\hspace{40pt}}};
\node[rnode] (l4) at (1894,5784) {四、拓展延伸。(多媒体出示)};
\node[rnode] (l4a) at (2072,5785) {☆我们周村小学大门口的街道旁栽了一行柳\\树，每1。2米栽一棵，那么从第一棵到第六\\棵共有多少米?};
\lkR{R4}{k1,k2,k3}{1791}
\lkR{k1}{k1a,k1b}{1882}
\lkR{k2}{k2a,k2b}{1882}
\lkR{k3}{l1,l2,l3,l4}{1882}
\lkR{l1}{l1a,l1b,l1c,l1d,l1e,l1f}{1984}
\lkR{l1f}{l1f1,l1f2,l1f3,l1f4}{2073}
\lkR{l2}{m1,m2,m3}{1984}
\lkR{m2}{m2a,m2b,m2c,m2d,m2e}{2248}
\lkR{m3}{n1,n2,n3,n4,n5,n6,n7,n8,n9,n10,n11,n12,n13,n14,n15}{2248}
\lkR{l3}{o1,o2,o3,o4,o6,o7,o8,o9}{2148}
\stR{l3}{o5}
\stR{l4}{l4a}

% ================= R6 =================
\node[rnode] (q1) at (1803,5857) {★ 新人教版二年级上册数学连加连减教案文\\案最新};
\node[rnode] (q2) at (1803,5916) {★ 2021最新人教版小学二年级上册数学教案};
\node[rnode] (q3) at (1803,5975) {★ 2021新人教版二年级上册数学总复习教案\\模板};
\node[rnode] (q4) at (1803,6033) {★ 人教版数学二年级上册教案2021文本};
\node[rnode] (q5) at (1803,6091) {★ 新人教版二年级上册数学量一量比一比教\\案2021模板};
\node[rnode] (q6) at (1803,6156) {★ 人教版小学二年级数学上册退位减法教案\\范文最新};
\node[rnode] (q7) at (1803,6216) {★ 二年级数学乘加乘减的应用题};
\node[rnode] (q8) at (1803,6274) {★ 2021最新二年级上册数学第二单元复习教\\案};
\node[rnode] (q9) at (1803,6340) {★ 2021最新人教版小学二年级上册数学第七\\单元教案};
\node[rnode] (q10) at (1803,6405) {★ 人教版小学二年级数学上册总复习教案范\\文最新};
\lkR{R6}{q1,q2,q3,q4,q5,q6,q7,q8,q9,q10}{1791}
\end{tikzpicture}
\end{document}
